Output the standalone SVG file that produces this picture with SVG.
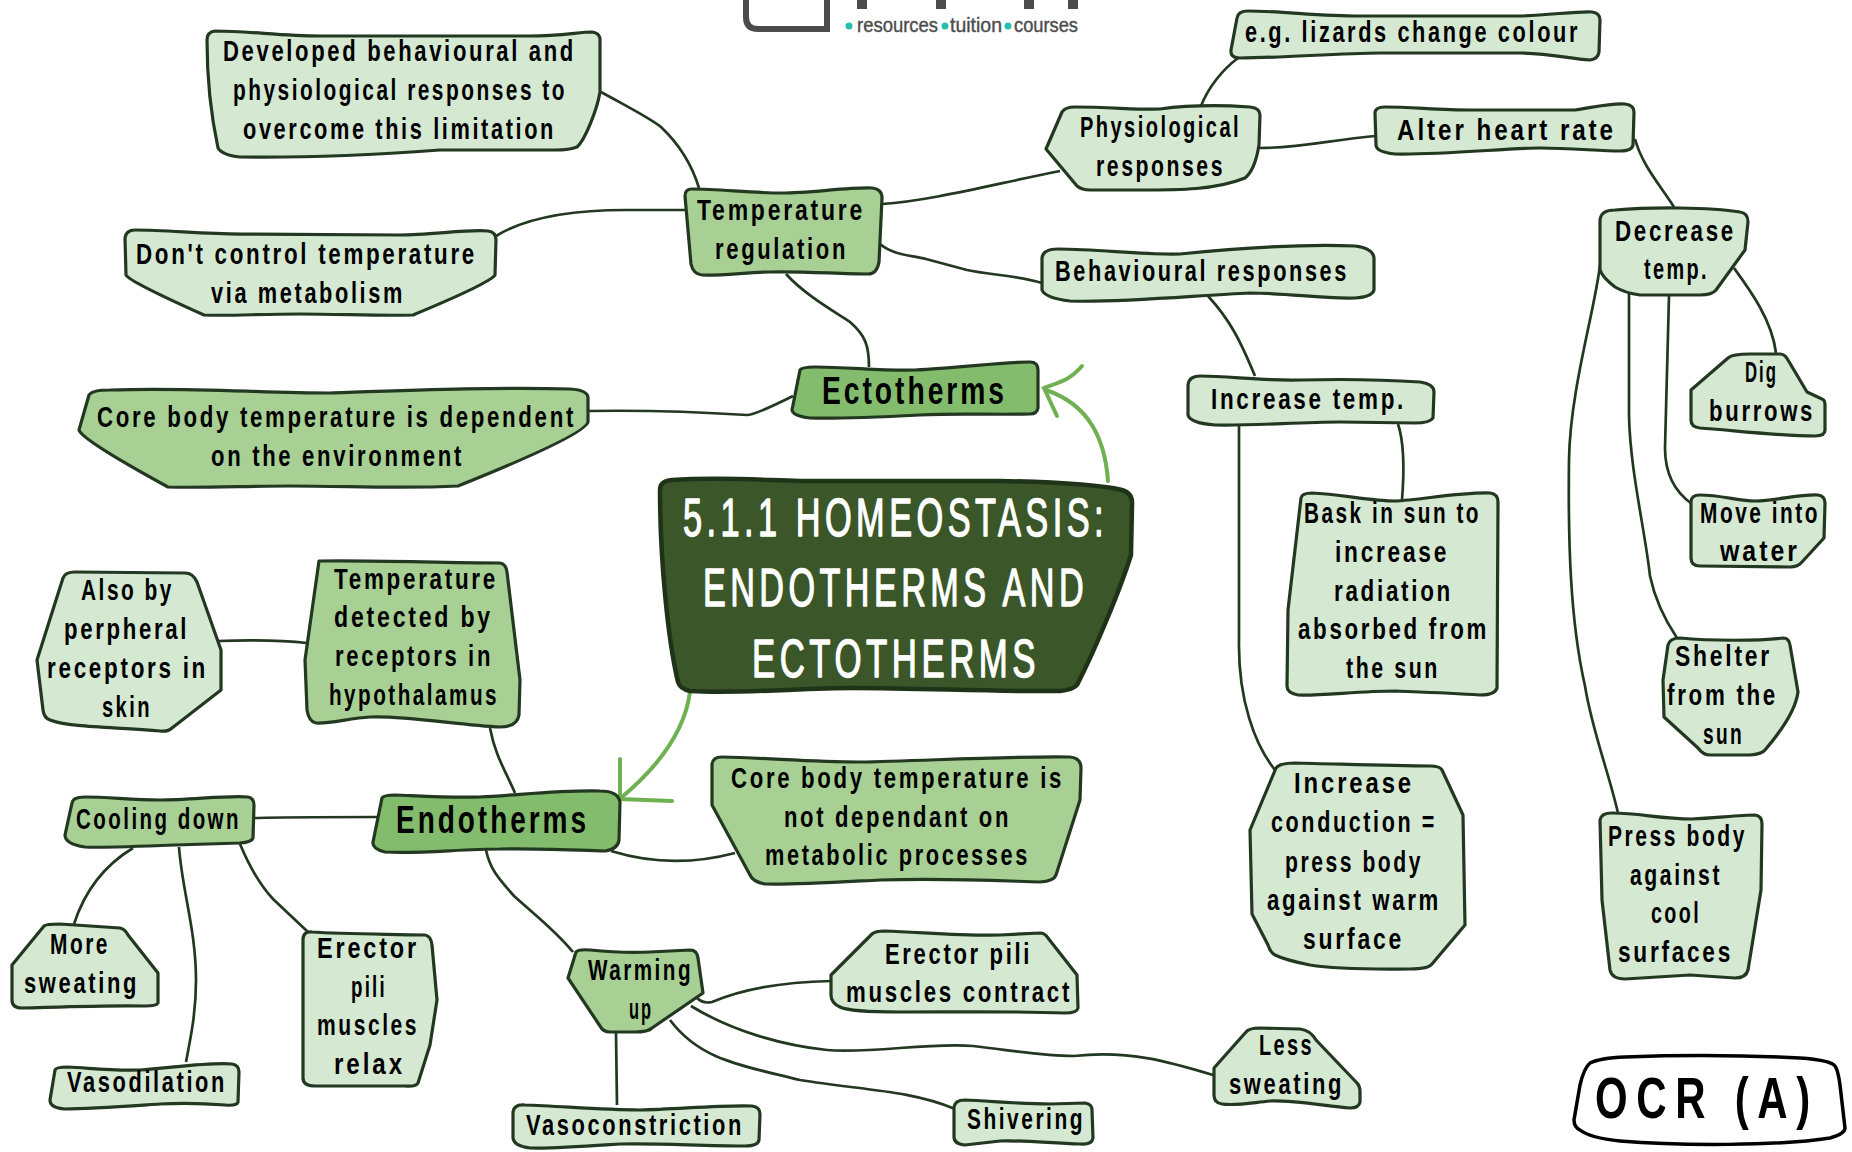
<svg xmlns="http://www.w3.org/2000/svg" width="1852" height="1152" viewBox="0 0 1852 1152">
<style>
text{font-family:"Liberation Sans",Arial,sans-serif;font-weight:700;fill:#000;font-size:29px;letter-spacing:3.5px}
.n{stroke:#233820;stroke-width:3.2;stroke-linejoin:round}
.a{fill:#d5e8d2}.b{fill:#a8d095}.c{fill:#84bc6d}
#connectors path{fill:none;stroke:#233820;stroke-width:2.7}
#connectors .g{stroke:#6fb052;stroke-width:4;stroke-linecap:round}
text.logo{font-size:21px;fill:#4c4c4c;font-weight:400;letter-spacing:0;stroke:#4c4c4c;stroke-width:.4}
text.title{font-size:54px;fill:#fff;font-weight:400;letter-spacing:7px;stroke:#fff;stroke-width:1.4;stroke-linejoin:round}
text.big{font-size:38px;letter-spacing:4px}
text.ocr{font-size:58px;letter-spacing:12px}
</style>
<rect width="1852" height="1152" fill="#fff"/>
<g id="logo">
<path d="M746 0V17Q746 29 758 29H827V0" fill="none" stroke="#4c4c4c" stroke-width="6"/>
<rect x="857" y="0" width="10" height="9" fill="#4c4c4c"/><rect x="936" y="0" width="10" height="9" fill="#4c4c4c"/><rect x="1024" y="0" width="10" height="9" fill="#4c4c4c"/><rect x="1068" y="0" width="10" height="9" fill="#4c4c4c"/>
<circle cx="849" cy="26" r="3.5" fill="#26c0b0"/><circle cx="945" cy="26" r="3.5" fill="#26c0b0"/><circle cx="1008" cy="26" r="3.5" fill="#26c0b0"/>
<text class="logo" x="857" y="32" textLength="81" lengthAdjust="spacingAndGlyphs">resources</text>
<text class="logo" x="950" y="32" textLength="52" lengthAdjust="spacingAndGlyphs">tuition</text>
<text class="logo" x="1014" y="32" textLength="64" lengthAdjust="spacingAndGlyphs">courses</text>
</g>
<g id="connectors">
<path d="M601 92C630 108 650 118 661 127C680 145 692 165 699 188"/>
<path d="M496 236C530 215 580 210 626 210L685 210"/>
<path d="M786 274C805 295 835 312 850 322C865 335 869 345 869 367"/>
<path d="M589 411C650 410 700 412 747 415Q755 415 793 396"/>
<path d="M882 204C930 201 990 185 1060 171"/>
<path d="M880 244C893 255 910 255 926 259L967 270C990 275 1015 275 1042 283"/>
<path d="M1201 106C1208 88 1222 70 1238 58"/>
<path d="M1260 148C1300 148 1330 140 1375 136"/>
<path d="M1635 139C1642 165 1660 185 1674 207"/>
<path d="M1208 296C1230 320 1240 340 1255 376"/>
<path d="M1398 424C1405 445 1404 475 1402 500"/>
<path d="M1239 425L1239 640C1238 700 1255 745 1275 770"/>
<path d="M1600 265C1595 310 1570 390 1569 460C1568 540 1570 620 1585 686C1592 730 1608 770 1618 813"/>
<path d="M1629 292L1629 415C1630 470 1645 530 1650 576C1655 600 1665 620 1677 638"/>
<path d="M1669 296L1665 448Q1665 485 1692 504"/>
<path d="M1734 268C1750 290 1772 320 1776 353"/>
<path d="M218 641C250 640 280 640 307 643"/>
<path d="M490 728C495 755 505 770 515 793"/>
<path d="M254 818C280 817 330 817 377 817"/>
<path d="M611 851C650 863 690 865 735 853"/>
<path d="M133 848C105 865 85 890 74 924"/>
<path d="M179 847C182 890 196 930 196 980C196 1015 190 1040 186 1062"/>
<path d="M240 844C250 868 260 885 273 899Q290 915 308 932"/>
<path d="M486 850C490 870 500 880 514 896C535 915 555 930 573 952"/>
<path d="M697 998Q703 1004 712 1002C740 990 780 982 831 981"/>
<path d="M691 1006C730 1030 780 1045 827 1050C870 1054 930 1042 973 1046C1010 1050 1040 1056 1074 1056C1130 1050 1170 1062 1213 1075"/>
<path d="M670 1020C700 1060 740 1065 800 1080C860 1090 910 1090 955 1109"/>
<path d="M616 1033L617 1105"/>
<path class="g" d="M1108 481C1105 440 1090 405 1046 390"/>
<path class="g" d="M1082 366C1070 380 1060 382 1044 388L1057 416"/>
<path class="g" d="M690 692C685 730 660 765 622 797"/>
<path class="g" d="M620 759L620 799L672 801"/>
</g>
<g id="n-dev"><path class="n a" d="M207 40Q207 32 215 31C250 31 280 36 320 36L530 36C560 36 580 32 592 32Q601 33 600 42L600 92C597 110 585 140 577 147Q570 150 555 150L440 150C370 155 300 158 240 157Q222 155 218 148C212 120 207 80 207 40Z"/>
<text x="223" y="61" textLength="353" lengthAdjust="spacingAndGlyphs">Developed behavioural and</text>
<text x="233" y="100" textLength="334" lengthAdjust="spacingAndGlyphs">physiological responses to</text>
<text x="243" y="139" textLength="313" lengthAdjust="spacingAndGlyphs">overcome this limitation</text></g>
<g id="n-tempreg"><path class="n b" d="M685 196Q685 189 692 189C720 189 750 193 782 193C810 193 850 187 872 188Q882 189 882 198L879 262Q877 274 868 274C840 274 800 271 770 272C750 272 720 276 702 275Q693 274 691 264Z"/>
<text x="697" y="220" textLength="168" lengthAdjust="spacingAndGlyphs">Temperature</text>
<text x="715" y="259" textLength="133" lengthAdjust="spacingAndGlyphs">regulation</text></g>
<g id="n-dont"><path class="n a" d="M125 238Q126 230 135 230C170 230 210 235 250 234L400 235C430 235 470 229 488 231Q496 232 496 240L495 275Q490 283 413 315C380 316 340 314 300 314C260 314 230 316 204 315Q130 282 126 275Z"/>
<text x="136" y="264" textLength="341" lengthAdjust="spacingAndGlyphs">Don't control temperature</text>
<text x="211" y="303" textLength="194" lengthAdjust="spacingAndGlyphs">via metabolism</text></g>
<g id="n-core1"><path class="n b" d="M89 395Q92 390 110 390C190 387 260 393 330 393C420 390 500 387 570 389Q588 390 588 398L588 422Q585 435 458 486C400 489 350 486 290 486C250 486 200 488 168 487Q82 440 79 430Z"/>
<text x="97" y="427" textLength="479" lengthAdjust="spacingAndGlyphs">Core body temperature is dependent</text>
<text x="211" y="466" textLength="253" lengthAdjust="spacingAndGlyphs">on the environment</text></g>
<g id="n-ecto"><path class="c n" d="M800 370Q802 367 815 367C850 367 880 371 915 370C960 368 1000 362 1030 362Q1038 362 1038 370L1038 408Q1037 414 1030 414C990 415 960 413 920 415C880 417 840 419 810 418Q793 416 792 410Z"/>
<text class="big" x="822" y="404" textLength="185" lengthAdjust="spacingAndGlyphs">Ectotherms</text></g>
<g id="n-title"><path fill="#3b5729" stroke="#1f3318" stroke-width="4.5" stroke-linejoin="round" d="M660 490Q660 481 672 480C720 477 760 480 800 481L1000 481C1050 482 1100 485 1122 490Q1133 493 1132 505L1131 555C1120 590 1095 650 1077 685Q1072 690 1060 691C1000 692 920 688 853 688C800 688 740 694 690 691Q680 689 678 682C668 640 660 560 660 490Z"/>
<text class="title" x="683" y="536" textLength="425" lengthAdjust="spacingAndGlyphs">5.1.1 HOMEOSTASIS:</text>
<text class="title" x="703" y="606" textLength="385" lengthAdjust="spacingAndGlyphs">ENDOTHERMS AND</text>
<text class="title" x="752" y="677" textLength="288" lengthAdjust="spacingAndGlyphs">ECTOTHERMS</text></g>
<g id="n-eg"><path class="n a" d="M1237 18Q1238 11 1248 11C1280 11 1320 16 1360 16L1520 16C1550 15 1580 11 1592 12Q1600 13 1600 20L1599 52Q1598 59 1590 60C1570 59 1550 53 1520 53L1380 53C1340 53 1280 58 1240 58Q1230 58 1231 50Z"/>
<text x="1245" y="42" textLength="335" lengthAdjust="spacingAndGlyphs">e.g. lizards change colour</text></g>
<g id="n-phys"><path class="n a" d="M1062 112Q1065 107 1075 107C1110 107 1140 110 1160 109C1190 105 1220 105 1250 107Q1260 108 1260 115L1259 145Q1255 170 1245 178C1215 190 1180 190 1140 190L1090 190Q1082 190 1077 186L1046 149Z"/>
<text x="1080" y="137" textLength="161" lengthAdjust="spacingAndGlyphs">Physiological</text>
<text x="1096" y="176" textLength="129" lengthAdjust="spacingAndGlyphs">responses</text></g>
<g id="n-alter"><path class="n a" d="M1375 113Q1375 107 1385 107C1410 107 1440 110 1470 110L1575 110C1590 108 1610 103 1625 104Q1634 105 1634 112L1633 145Q1632 151 1620 151C1600 151 1570 148 1540 148C1510 148 1440 155 1395 154Q1376 152 1376 145Z"/>
<text x="1397" y="140" textLength="219" lengthAdjust="spacingAndGlyphs">Alter heart rate</text></g>
<g id="n-dec"><path class="n a" d="M1600 220Q1601 210 1615 210C1650 207 1710 207 1740 212Q1748 213 1748 222L1745 250L1716 290Q1712 295 1700 295L1640 295Q1625 293 1615 287Q1603 278 1600 270Z"/>
<text x="1615" y="241" textLength="121" lengthAdjust="spacingAndGlyphs">Decrease</text>
<text x="1644" y="279" textLength="65" lengthAdjust="spacingAndGlyphs">temp.</text></g>
<g id="n-beh"><path class="n a" d="M1042 258Q1043 249 1058 249C1100 249 1140 255 1180 254C1240 248 1310 244 1355 246Q1373 248 1374 258L1374 290Q1372 297 1355 298C1320 299 1290 293 1250 293C1200 295 1120 303 1070 301Q1045 298 1042 290Z"/>
<text x="1055" y="281" textLength="294" lengthAdjust="spacingAndGlyphs">Behavioural responses</text></g>
<g id="n-inc"><path class="n a" d="M1188 385Q1189 376 1200 376C1230 376 1260 381 1300 380C1340 379 1390 380 1420 382Q1434 384 1434 392L1433 418Q1430 423 1415 423L1340 422C1300 422 1250 426 1215 425Q1190 423 1188 415Z"/>
<text x="1211" y="409" textLength="195" lengthAdjust="spacingAndGlyphs">Increase temp.</text></g>
<g id="n-bask"><path class="n a" d="M1301 498Q1302 493 1312 493C1340 494 1370 501 1395 501C1420 500 1460 492 1490 493Q1498 494 1498 502L1497 688Q1495 695 1480 695C1450 693 1420 692 1395 691C1360 691 1320 696 1298 695Q1287 693 1287 686L1288 610Z"/>
<text x="1304" y="523" textLength="177" lengthAdjust="spacingAndGlyphs">Bask in sun to</text>
<text x="1335" y="562" textLength="114" lengthAdjust="spacingAndGlyphs">increase</text>
<text x="1334" y="601" textLength="119" lengthAdjust="spacingAndGlyphs">radiation</text>
<text x="1298" y="639" textLength="191" lengthAdjust="spacingAndGlyphs">absorbed from</text>
<text x="1346" y="678" textLength="94" lengthAdjust="spacingAndGlyphs">the sun</text></g>
<g id="n-dig"><path class="n a" d="M1691 390L1728 358Q1732 354 1750 354L1780 354Q1785 354 1788 360L1807 392L1822 399Q1825 400 1825 405L1825 430Q1825 436 1815 436C1780 436 1730 430 1700 428Q1691 427 1691 420Z"/>
<text x="1745" y="382" textLength="33" lengthAdjust="spacingAndGlyphs">Dig</text>
<text x="1709" y="421" textLength="106" lengthAdjust="spacingAndGlyphs">burrows</text></g>
<g id="n-move"><path class="n a" d="M1691 502Q1691 495 1700 495C1720 495 1740 501 1755 501C1780 500 1800 494 1818 495Q1825 496 1825 503L1824 538L1802 562Q1798 567 1790 567L1700 566Q1691 566 1691 558Z"/>
<text x="1700" y="523" textLength="120" lengthAdjust="spacingAndGlyphs">Move into</text>
<text x="1720" y="561" textLength="80" lengthAdjust="spacingAndGlyphs">water</text></g>
<g id="n-shelter"><path class="n a" d="M1668 645Q1670 638 1680 638C1710 641 1760 641 1783 638Q1789 638 1790 645L1798 692Q1795 715 1765 750Q1762 754 1750 755L1710 755Q1703 755 1698 748L1664 717L1663 680Z"/>
<text x="1675" y="666" textLength="97" lengthAdjust="spacingAndGlyphs">Shelter</text>
<text x="1667" y="705" textLength="111" lengthAdjust="spacingAndGlyphs">from the</text>
<text x="1703" y="744" textLength="41" lengthAdjust="spacingAndGlyphs">sun</text></g>
<g id="n-press"><path class="n a" d="M1600 820Q1601 813 1612 813C1640 813 1660 819 1692 819C1715 818 1740 815 1755 815Q1762 816 1762 824L1761 890L1748 970Q1746 978 1735 978L1690 975L1625 979Q1612 979 1610 970L1602 900Z"/>
<text x="1608" y="846" textLength="139" lengthAdjust="spacingAndGlyphs">Press body</text>
<text x="1630" y="885" textLength="92" lengthAdjust="spacingAndGlyphs">against</text>
<text x="1651" y="923" textLength="50" lengthAdjust="spacingAndGlyphs">cool</text>
<text x="1618" y="962" textLength="115" lengthAdjust="spacingAndGlyphs">surfaces</text></g>
<g id="n-cond"><path class="n a" d="M1276 768Q1280 763 1295 763C1340 764 1390 766 1430 766Q1440 766 1442 770L1463 815L1465 925L1432 964Q1428 969 1410 969C1380 969 1340 970 1310 965Q1285 960 1275 955Q1270 952 1268 945L1252 914L1250 830Z"/>
<text x="1294" y="793" textLength="120" lengthAdjust="spacingAndGlyphs">Increase</text>
<text x="1271" y="832" textLength="166" lengthAdjust="spacingAndGlyphs">conduction =</text>
<text x="1285" y="872" textLength="138" lengthAdjust="spacingAndGlyphs">press body</text>
<text x="1267" y="910" textLength="174" lengthAdjust="spacingAndGlyphs">against warm</text>
<text x="1303" y="949" textLength="101" lengthAdjust="spacingAndGlyphs">surface</text></g>
<g id="n-alsoby"><path class="n a" d="M63 578Q65 572 75 572L185 573Q193 573 197 582L221 650L221 690L172 728Q168 732 160 731C120 727 70 728 50 720Q44 718 43 710L37 660Z"/>
<text x="81" y="600" textLength="93" lengthAdjust="spacingAndGlyphs">Also by</text>
<text x="64" y="639" textLength="125" lengthAdjust="spacingAndGlyphs">perpheral</text>
<text x="47" y="678" textLength="161" lengthAdjust="spacingAndGlyphs">receptors in</text>
<text x="102" y="717" textLength="50" lengthAdjust="spacingAndGlyphs">skin</text></g>
<g id="n-detect"><path class="n b" d="M319 561C380 560 440 563 500 563Q506 564 507 572L520 680L519 715Q517 727 500 727C460 725 400 715 370 717C350 718 330 724 316 723Q309 722 307 710L305 660Z"/>
<text x="334" y="589" textLength="164" lengthAdjust="spacingAndGlyphs">Temperature</text>
<text x="334" y="627" textLength="159" lengthAdjust="spacingAndGlyphs">detected by</text>
<text x="335" y="666" textLength="158" lengthAdjust="spacingAndGlyphs">receptors in</text>
<text x="329" y="705" textLength="170" lengthAdjust="spacingAndGlyphs">hypothalamus</text></g>
<g id="n-endo"><path class="c n" d="M382 798Q384 795 395 795C420 796 450 798 480 797C520 795 560 790 600 791Q618 791 620 802L619 840Q618 849 605 851C570 850 530 848 500 849C460 849 420 854 385 852Q372 849 373 842Z"/>
<text class="big" x="396" y="833" textLength="193" lengthAdjust="spacingAndGlyphs">Endotherms</text></g>
<g id="n-cool"><path class="n b" d="M72 803Q73 797 85 797C110 797 130 800 160 800C190 800 230 795 248 797Q254 798 254 805L253 838Q252 842 240 843L175 845C150 846 100 848 85 847Q65 844 65 835Z"/>
<text x="76" y="829" textLength="165" lengthAdjust="spacingAndGlyphs">Cooling down</text></g>
<g id="n-more"><path class="n a" d="M44 926Q46 924 60 924L120 928Q125 929 128 935L158 973L158 1003Q157 1006 145 1006C110 1005 60 1007 22 1008Q12 1008 12 1000L12 965Z"/>
<text x="50" y="954" textLength="60" lengthAdjust="spacingAndGlyphs">More</text>
<text x="24" y="993" textLength="115" lengthAdjust="spacingAndGlyphs">sweating</text></g>
<g id="n-vaso"><path class="n a" d="M55 1070Q56 1067 68 1067C90 1068 110 1071 140 1070C170 1068 210 1062 232 1064Q239 1065 239 1072L238 1102Q237 1106 225 1105C200 1103 180 1103 160 1104C130 1106 90 1109 65 1109Q50 1108 50 1100Z"/>
<text x="67" y="1092" textLength="160" lengthAdjust="spacingAndGlyphs">Vasodilation</text></g>
<g id="n-erect1"><path class="n a" d="M303 940Q303 931 312 932C340 934 380 934 425 935Q431 936 432 945L437 1000L430 1045L418 1083Q416 1087 405 1086L315 1086Q303 1086 303 1078Z"/>
<text x="317" y="958" textLength="102" lengthAdjust="spacingAndGlyphs">Erector</text>
<text x="351" y="997" textLength="36" lengthAdjust="spacingAndGlyphs">pili</text>
<text x="317" y="1035" textLength="102" lengthAdjust="spacingAndGlyphs">muscles</text>
<text x="334" y="1074" textLength="71" lengthAdjust="spacingAndGlyphs">relax</text></g>
<g id="n-warm"><path class="n b" d="M576 952Q578 949 590 950C610 952 630 953 650 952L690 950Q697 950 698 958L703 993L652 1028Q648 1032 635 1032L610 1032Q603 1032 600 1026L568 978Z"/>
<text x="588" y="980" textLength="105" lengthAdjust="spacingAndGlyphs">Warming</text>
<text x="629" y="1019" textLength="24" lengthAdjust="spacingAndGlyphs">up</text></g>
<g id="n-vcon"><path class="n a" d="M513 1112Q514 1104 525 1105C560 1106 600 1110 640 1110C680 1109 720 1105 752 1106Q760 1107 760 1114L759 1140Q758 1146 745 1146C700 1146 660 1143 620 1144C590 1146 550 1149 530 1148Q514 1146 513 1138Z"/>
<text x="526" y="1135" textLength="218" lengthAdjust="spacingAndGlyphs">Vasoconstriction</text></g>
<g id="n-core2"><path class="n b" d="M712 764Q713 757 722 757C770 758 810 762 860 762C920 761 1010 756 1070 757Q1081 758 1081 768L1080 800L1056 875Q1054 881 1040 882C980 880 940 878 880 880C840 882 790 885 765 884Q753 882 750 875L712 805Z"/>
<text x="731" y="788" textLength="333" lengthAdjust="spacingAndGlyphs">Core body temperature is</text>
<text x="784" y="827" textLength="227" lengthAdjust="spacingAndGlyphs">not dependant on</text>
<text x="765" y="865" textLength="265" lengthAdjust="spacingAndGlyphs">metabolic processes</text></g>
<g id="n-erect2"><path class="n a" d="M831 975L872 934Q875 931 885 931C920 932 960 936 1000 935L1040 933Q1045 933 1048 938L1077 975L1078 1008Q1077 1013 1065 1013C1010 1011 960 1012 900 1012Q850 1012 840 1007Q831 1003 831 995Z"/>
<text x="885" y="964" textLength="147" lengthAdjust="spacingAndGlyphs">Erector pili</text>
<text x="846" y="1002" textLength="226" lengthAdjust="spacingAndGlyphs">muscles contract</text></g>
<g id="n-less"><path class="n a" d="M1214 1068L1246 1032Q1249 1028 1260 1028L1300 1029Q1310 1030 1316 1040L1357 1083Q1360 1086 1360 1092L1360 1102Q1359 1108 1350 1108C1320 1105 1290 1100 1270 1101C1250 1103 1235 1106 1222 1104Q1214 1103 1214 1095Z"/>
<text x="1259" y="1055" textLength="55" lengthAdjust="spacingAndGlyphs">Less</text>
<text x="1229" y="1094" textLength="115" lengthAdjust="spacingAndGlyphs">sweating</text></g>
<g id="n-shiv"><path class="n a" d="M954 1107Q955 1100 965 1100C990 1101 1020 1104 1050 1104L1085 1103Q1092 1104 1092 1110L1093 1138Q1092 1145 1080 1144C1050 1143 1020 1140 1000 1141L965 1145Q954 1144 954 1137Z"/>
<text x="967" y="1129" textLength="118" lengthAdjust="spacingAndGlyphs">Shivering</text></g>
<g id="n-ocr"><path fill="#fff" stroke="#000" stroke-width="3.5" d="M1590 1063Q1600 1058 1625 1057C1680 1055 1740 1055 1800 1058Q1830 1060 1835 1066Q1838 1070 1840 1085L1845 1128Q1845 1134 1830 1138C1780 1146 1680 1146 1620 1141Q1590 1138 1580 1130Q1574 1127 1574 1120L1580 1085Q1584 1068 1590 1063Z"/>
<text class="ocr" x="1595" y="1118" textLength="224" lengthAdjust="spacingAndGlyphs">OCR (A)</text></g>
</svg>
